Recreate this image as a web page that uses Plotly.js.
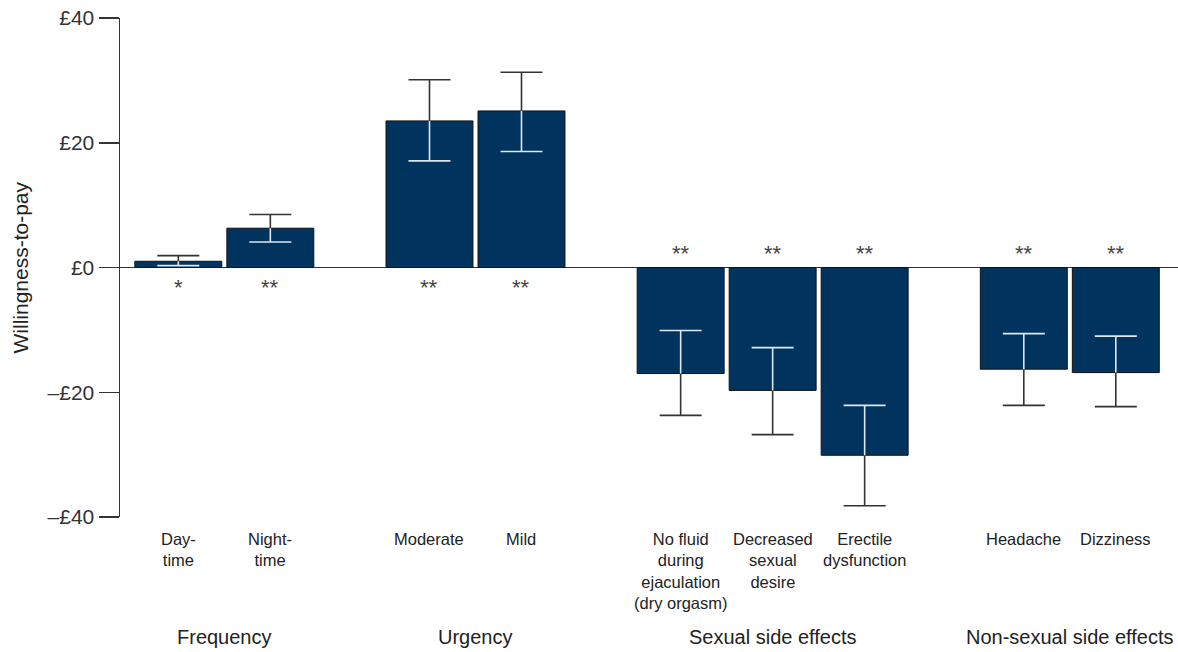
<!DOCTYPE html>
<html>
<head>
<meta charset="utf-8">
<script src="https://cdn.plot.ly/plotly-3.0.1.min.js"></script>
<style>html,body{margin:0;padding:0;background:#fff;}#chart{width:1178px;height:652px;}</style>
</head>
<body>
<div id="chart"></div>
<script>
// ---- data ----
const groups = ["Frequency", "Urgency", "Sexual side effects", "Non-sexual side effects"];
const categories = [
  "Day-<br>time", "Night-<br>time",
  "Moderate", "Mild",
  "No fluid<br>during<br>ejaculation<br>(dry orgasm)", "Decreased<br>sexual<br>desire", "Erectile<br>dysfunction",
  "Headache", "Dizziness"
];
const groupOf = [0, 0, 1, 1, 2, 2, 2, 3, 3];
const wtp     = [1.0, 6.3, 23.5, 25.1, -17.0, -19.7, -30.1, -16.3, -16.85];
const ciLow   = [0.3, 4.1, 17.1, 18.6, -23.7, -26.8, -38.2, -22.1, -22.3];
const ciHigh  = [1.9, 8.5, 30.1, 31.3, -10.1, -12.85, -22.1, -10.6, -11.0];
const stars   = ["*", "**", "**", "**", "**", "**", "**", "**", "**"];
const yTickVals = [40, 20, 0, -20, -40];
const yTickText = ["£40", "£20", "£0", "–£20", "–£40"];

// ---- layout helpers ----
const groupJump = 1.73;          // distance between last bar of a group and first of next
const pos = categories.map((c, i) => i + groupOf[i] * (groupJump - 1));
const groupCenters = groups.map((g, gi) => {
  const ps = pos.filter((p, i) => groupOf[i] === gi);
  return (Math.min(...ps) + Math.max(...ps)) / 2;
});

const outer = wtp.map((v, i) => v >= 0 ? ciHigh[i] : ciLow[i]);
const inner = wtp.map((v, i) => v >= 0 ? ciLow[i] : ciHigh[i]);

const FONT = "Liberation Sans, Arial, sans-serif";
const NAVY = "#00345e";
const CAP = 30;

const traces = [
  {
    type: "bar", x: pos, y: wtp, width: 0.945,
    marker: {color: NAVY, line: {color: "#111", width: 1}},
    hoverinfo: "skip", showlegend: false
  },
  { // outer (black) part of the confidence interval
    type: "scatter", mode: "markers", x: pos, y: outer,
    marker: {symbol: "line-ew", size: CAP, color: "#333", line: {color: "#333", width: 1.6}},
    error_y: {
      type: "data", symmetric: false, width: 0, thickness: 1.6, color: "#333",
      array: wtp.map((v, i) => v >= 0 ? 0 : v - outer[i]),
      arrayminus: wtp.map((v, i) => v >= 0 ? outer[i] - v : 0)
    },
    hoverinfo: "skip", showlegend: false
  },
  { // inner (white) part of the confidence interval
    type: "scatter", mode: "markers", x: pos, y: inner,
    marker: {symbol: "line-ew", size: CAP, color: "#dfe7ef", line: {color: "#dfe7ef", width: 1.6}},
    error_y: {
      type: "data", symmetric: false, width: 0, thickness: 1.6, color: "#dfe7ef",
      array: wtp.map((v, i) => v >= 0 ? v - inner[i] : 0),
      arrayminus: wtp.map((v, i) => v >= 0 ? 0 : inner[i] - v)
    },
    hoverinfo: "skip", showlegend: false
  }
];

const annotations = [];
// significance stars
wtp.forEach((v, i) => {
  annotations.push({
    x: pos[i], y: 0, xref: "x", yref: "y", text: stars[i], showarrow: false,
    xanchor: "center", yanchor: "middle", yshift: v >= 0 ? -20 : 14,
    font: {family: FONT, size: 22, color: "#444"}
  });
});
// category labels
categories.forEach((c, i) => {
  annotations.push({
    x: pos[i], y: -0.022, xref: "x", yref: "paper", text: c, showarrow: false,
    xanchor: "center", yanchor: "top", align: "center",
    font: {family: FONT, size: 16.5, color: "#222"}
  });
});
// group labels
groups.forEach((g, gi) => {
  annotations.push({
    x: groupCenters[gi], y: -0.2405, xref: "x", yref: "paper", text: g, showarrow: false,
    xanchor: "center", yanchor: "middle",
    font: {family: FONT, size: 20, color: "#222"}
  });
});
// y-axis title
annotations.push({
  x: -0.0945, y: 0.5, xref: "paper", yref: "paper", text: "Willingness-to-pay",
  showarrow: false, textangle: -90, xanchor: "center", yanchor: "middle",
  font: {family: FONT, size: 21, color: "#222"}
});

const layout = {
  width: 1178, height: 652,
  margin: {l: 120, r: 0, t: 18, b: 135},
  paper_bgcolor: "#fff", plot_bgcolor: "#fff",
  font: {family: FONT, color: "#333"},
  showlegend: false,
  bargap: 0,
  xaxis: {
    range: [-0.634, 10.866], showline: false, showgrid: false, zeroline: false,
    showticklabels: false, ticks: ""
  },
  yaxis: {
    range: [-40, 40], tickvals: yTickVals, ticktext: yTickText,
    showline: true, linecolor: "#333", linewidth: 1.5,
    ticks: "outside", ticklen: 20, tickwidth: 1.5, tickcolor: "#333",
    tickfont: {family: FONT, size: 21, color: "#333"},
    showgrid: false, zeroline: true, zerolinecolor: "#333", zerolinewidth: 1.5
  },
  annotations: annotations
};

Plotly.newPlot("chart", traces, layout, {staticPlot: true, displayModeBar: false});
</script>
</body>
</html>
